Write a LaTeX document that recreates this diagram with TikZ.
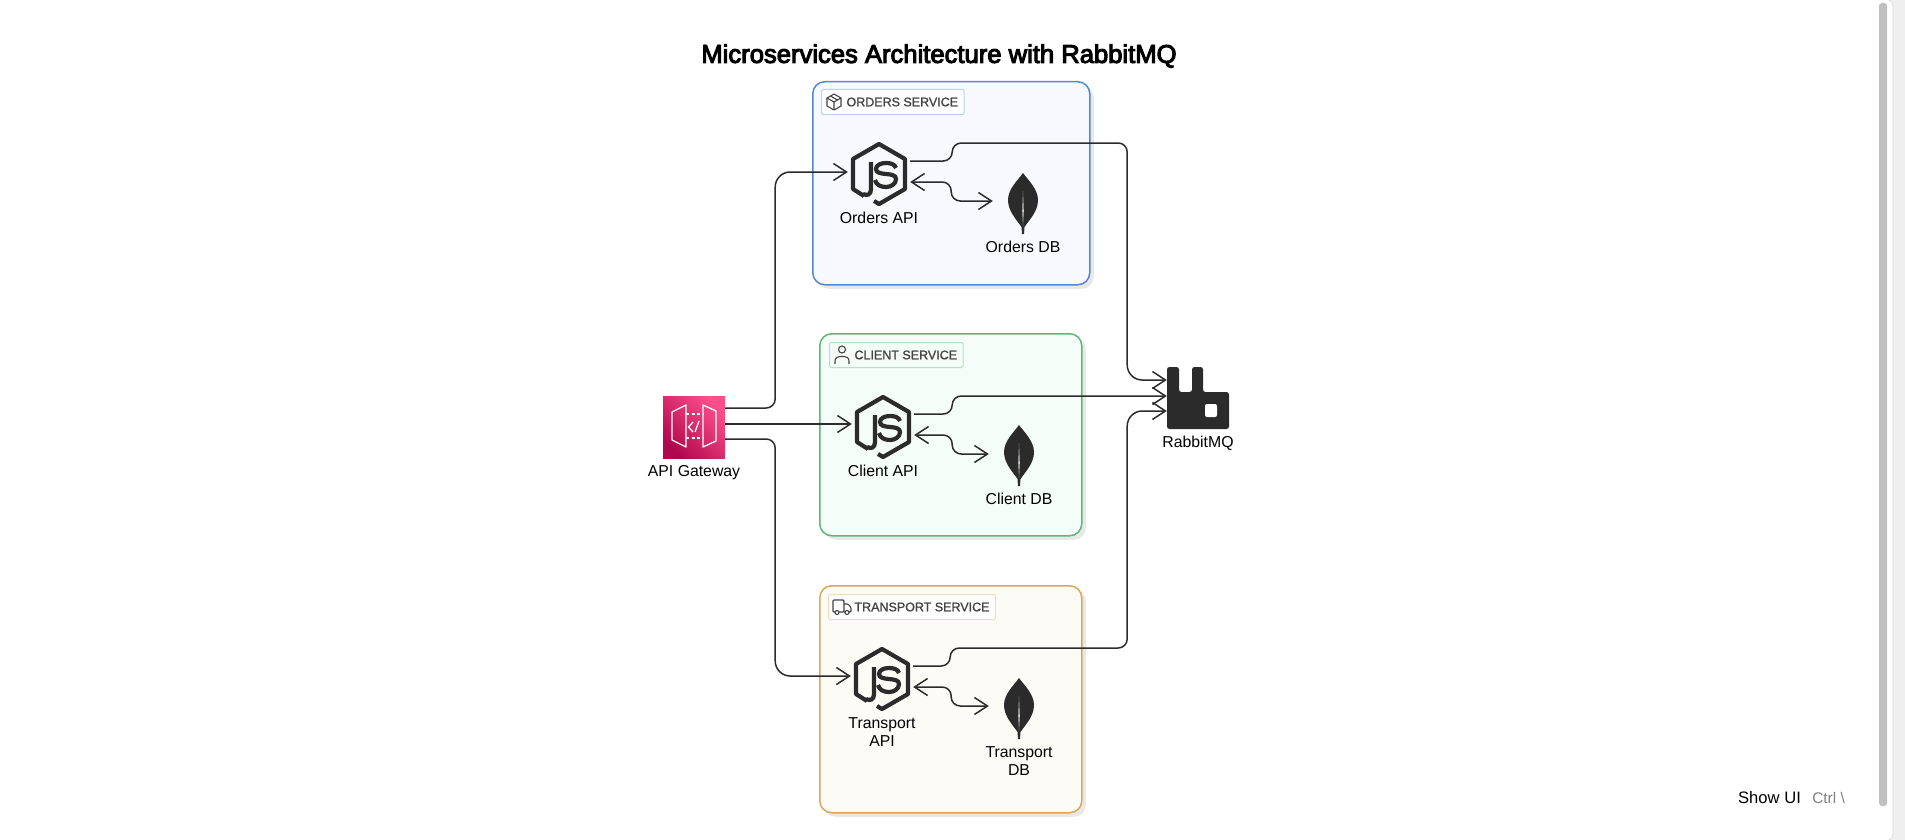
\documentclass[tikz,border=0pt]{standalone}
\usepackage{fontspec}
\setmainfont{Liberation Sans}
\newfontfamily\titlefont[FakeBold=4]{Liberation Sans}
\newfontfamily\tagfont[FakeBold=1.2]{Liberation Sans}
\usetikzlibrary{arrows.meta, positioning, shadows}
\definecolor{inkdark}{HTML}{2B2B2B}
\definecolor{ordersline}{HTML}{5288D8}
\definecolor{ordersfill}{HTML}{F7F9FE}
\definecolor{ordersedge}{HTML}{BCD2F2}
\definecolor{clientline}{HTML}{5CB87A}
\definecolor{clientfill}{HTML}{F5FDF8}
\definecolor{clientedge}{HTML}{B4E2C4}
\definecolor{transportline}{HTML}{DCA75C}
\definecolor{transportfill}{HTML}{FDFBF6}
\definecolor{transportedge}{HTML}{F0DCBA}
\definecolor{tagtext}{HTML}{444444}
\definecolor{shadowgray}{HTML}{E8E8E8}
\definecolor{gutter}{HTML}{EFEFEF}
\definecolor{thumb}{HTML}{C0C0C0}
\definecolor{awsdark}{HTML}{B0084D}
\definecolor{awslight}{HTML}{FF4F8B}
\tikzset{
    servicebox/.style={draw, line width=1.5pt, rounded corners=12pt, anchor=north west, inner sep=0pt,
        drop shadow={shadow xshift=4pt, shadow yshift=-4pt, fill=shadowgray, opacity=1}},
    tagbox/.style={draw, line width=1pt, rounded corners=1.5pt, minimum height=25pt, inner ysep=0pt,
        inner xsep=0pt, text=tagtext, font=\tagfont\fontsize{12.5}{16}\selectfont},
    iconnode/.style={minimum width=62pt, minimum height=62pt, inner sep=0pt},
    dbnode/.style={minimum width=60pt, minimum height=60pt, inner sep=0pt},
    iconlabel/.style={font=\fontsize{15.8}{18}\selectfont, align=center, inner sep=0pt},
    flow/.style={draw=inkdark, line width=1.5pt, rounded corners=9pt,
        arrows={-Straight Barb[length=13pt, width=17pt]}},
    syncflow/.style={flow, arrows={Straight Barb[length=13pt, width=17pt]-Straight Barb[length=13pt, width=17pt]}},
    jsicon/.pic={
        \draw[inkdark, line width=4.2pt, line join=round] (-5,27) -- (0,30) -- (26,15) -- (26,-15) -- (0,-30) -- (-26,-15) -- (-26,15) -- (-15,22);
        \draw[inkdark, line width=4.2pt] (-8,-12) -- (-8,15) .. controls (-8,21) and (-12,22) .. (-16,20);
        \draw[inkdark, line width=4.2pt] (17,-6) .. controls (16,-10) and (11,-11) .. (7,-11)
            .. controls (2,-11) and (-3,-9) .. (-3,-5) .. controls (-3,3) and (17,-3) .. (17,5)
            .. controls (17,10) and (12,13) .. (7,13) .. controls (2,13) and (-3,11) .. (-4,6);
    },
    leaficon/.pic={
        \fill[inkdark] (0,-30) .. controls (5,-23) and (15,-14) .. (15,-3)
            .. controls (15,8) and (7,16) .. (1.5,24) -- (1,31) -- (-1,31) -- (-1.5,24)
            .. controls (-7,16) and (-15,8) .. (-15,-3) .. controls (-15,-14) and (-5,-23) .. (0,-30) -- cycle;
        \fill[gray!45] (0,-12) -- (0.8,8) -- (0,23) -- (-0.8,8) -- cycle;
    },
    packageicon/.pic={
        \draw[tagtext, line width=1.1pt, line join=round] (0,-8) -- (7,-4) -- (7,4) -- (0,8) -- (-7,4) -- (-7,-4) -- cycle;
        \draw[tagtext, line width=1.1pt] (-7,-4) -- (0,0) -- (7,-4) (0,0) -- (0,8) (-3.5,-6) -- (3.5,-2);
    },
    personicon/.pic={
        \draw[tagtext, line width=1.1pt] (0,-5.5) circle (3.5);
        \draw[tagtext, line width=1.1pt] (-7,9) -- (-7,6) .. controls (-7,2.5) and (-4,1.5) .. (-2,1.5) -- (2,1.5) .. controls (4,1.5) and (7,2.5) .. (7,6) -- (7,9);
    },
    truckicon/.pic={
        \draw[tagtext, line width=1.1pt, rounded corners=1pt] (-7,5) -- (-9,5) -- (-9,-7) -- (2,-7) -- (2,5) -- (-3,5);
        \draw[tagtext, line width=1.1pt, rounded corners=1pt] (2,-3) -- (6,-3) -- (9,0.5) -- (9,5) -- (7,5) (3,5) -- (2,5);
        \draw[tagtext, line width=1.1pt] (-5,5.5) circle (2) (5,5.5) circle (2);
    }
}
\begin{document}
\begin{tikzpicture}[x=1pt, y=-1pt]
    \useasboundingbox (0,0) rectangle (1905,840);

    % =========================================================
    % PAGE
    % =========================================================
    \fill[gutter] (1880,0) rectangle (1905,840);
    \draw[fill=white, draw=gray!30, line width=0.6pt, rounded corners=8pt] (-20,-1) rectangle (1893,841);
    \fill[thumb, rounded corners=3pt] (1879,3) rectangle (1887,806);
    \node[font=\fontsize{16.6}{18}\selectfont, text=black, inner sep=0pt] (showui) at (1769.5,798) {Show UI};
    \node[font=\fontsize{15.4}{16}\selectfont, text=black!50, inner sep=0pt, right=11pt of showui] (shortcut) {Ctrl \textbackslash};

    \node[font=\titlefont\fontsize{25.6}{28}\selectfont, inner sep=0pt] (title) at (939,56) {Microservices Architecture with RabbitMQ};

    % =========================================================
    % SERVICE BOXES
    % =========================================================
    \node[servicebox, draw=ordersline, fill=ordersfill, minimum width=277pt, minimum height=203pt] (orders) at (812,81) {};
    \node[tagbox, draw=ordersedge, fill=white, below right=8pt and 9pt of orders.north west] (orderstag) {\hspace*{25pt}ORDERS SERVICE\hspace*{6pt}};
    \pic at ([xshift=13pt]orderstag.west) {packageicon};

    \node[servicebox, draw=clientline, fill=clientfill, minimum width=262pt, minimum height=202pt] (client) at (819,333) {};
    \node[tagbox, draw=clientedge, fill=clientfill, below right=9pt and 10pt of client.north west] (clienttag) {\hspace*{25pt}CLIENT SERVICE\hspace*{6pt}};
    \pic at ([xshift=13pt]clienttag.west) {personicon};

    \node[servicebox, draw=transportline, fill=transportfill, minimum width=262pt, minimum height=227pt] (transport) at (819,585) {};
    \node[tagbox, draw=transportedge, fill=white, below right=9pt and 9pt of transport.north west] (transporttag) {\hspace*{26pt}TRANSPORT SERVICE\hspace*{6pt}};
    \pic at ([xshift=14pt]transporttag.west) {truckicon};

    % =========================================================
    % ICONS AND LABELS
    % =========================================================
    % API Gateway
    \node[iconnode, shade, bottom color=awsdark, top color=awslight, shading angle=-45] (gateway) at (694,427) {};
    \draw[white, line width=1.3pt, line join=round] (672,412) -- (686,405) -- (686,447) -- (672,440) -- cycle;
    \draw[white, line width=1.3pt, line join=round] (703,405) -- (716,411) -- (716,441) -- (703,447) -- cycle;
    \draw[white, line width=1.3pt, dash pattern=on 3pt off 2.5pt] (686,414) -- (703,414) (686,438) -- (703,438);
    \draw[white, line width=1.3pt] (693,422) -- (688.5,427) -- (693,432) (695,432) -- (699,421);
    \node[iconlabel, below=7pt of gateway] (gatewaylabel) {API Gateway};

    % Orders
    \node[iconnode] (ordersapi) at (879,174) {};
    \pic at (ordersapi) {jsicon};
    \node[iconlabel, below=7pt of ordersapi] (ordersapilabel) {Orders API};
    \node[dbnode] (ordersdb) at (1023,203) {};
    \pic at (ordersdb) {leaficon};
    \node[iconlabel, below=8pt of ordersdb] (ordersdblabel) {Orders DB};

    % Client
    \node[iconnode] (clientapi) at (883,427) {};
    \pic at (clientapi) {jsicon};
    \node[iconlabel, below=7pt of clientapi] (clientapilabel) {Client API};
    \node[dbnode] (clientdb) at (1019,455) {};
    \pic at (clientdb) {leaficon};
    \node[iconlabel, below=8pt of clientdb] (clientdblabel) {Client DB};

    % Transport
    \node[iconnode] (transportapi) at (882,679) {};
    \pic at (transportapi) {jsicon};
    \node[iconlabel, below=7pt of transportapi] (transportapilabel) {Transport\\API};
    \node[dbnode] (transportdb) at (1019,708) {};
    \pic at (transportdb) {leaficon};
    \node[iconlabel, below=8pt of transportdb] (transportdblabel) {Transport\\DB};

    % RabbitMQ
    \node[iconnode] (rabbitmq) at (1198,398) {};
    \fill[inkdark, rounded corners=2.5pt] (1167,367) -- (1179,367) -- (1179,392) -- (1192,392) -- (1192,367) -- (1203,367) -- (1203,392) -- (1229,392) -- (1229,429) -- (1167,429) -- cycle;
    \fill[white, rounded corners=2pt] (1205,404) rectangle (1217,417);
    \node[iconlabel, below=7pt of rabbitmq] (rabbitmqlabel) {RabbitMQ};

    % =========================================================
    % CONNECTORS
    % =========================================================
    \draw[flow] ([yshift=19pt]gateway.east) -- ++(50,0) [rounded corners=15pt] |- ([yshift=2pt]ordersapi.west);
    \draw[flow] ([yshift=3pt]gateway.east) -- ([yshift=3pt]clientapi.west);
    \draw[flow] ([yshift=-12pt]gateway.east) -- ++(50,0) [rounded corners=15pt] |- ([yshift=3pt]transportapi.west);

    \draw[syncflow] ([yshift=-8pt]ordersapi.east) -- ++(41,0) |- ([yshift=2pt]ordersdb.west);
    \draw[syncflow] ([yshift=-8pt]clientapi.east) -- ++(38,0) |- ([yshift=1pt]clientdb.west);
    \draw[syncflow] ([yshift=-8pt]transportapi.east) -- ++(38,0) |- ([yshift=2pt]transportdb.west);

    \draw[flow] ([yshift=13pt]ordersapi.east) -- ++(42,0) -- ++(0,-18) -- ++(175,0) [rounded corners=15pt] |- ([yshift=18pt]rabbitmq.west);
    \draw[flow] ([yshift=13pt]clientapi.east) -- ++(38,0) |- ([yshift=2pt]rabbitmq.west);
    \draw[flow] ([yshift=13pt]transportapi.east) -- ++(37,0) -- ++(0,-18) -- ++(177,0) [rounded corners=15pt] |- ([yshift=-13pt]rabbitmq.west);
\end{tikzpicture}
\end{document}
